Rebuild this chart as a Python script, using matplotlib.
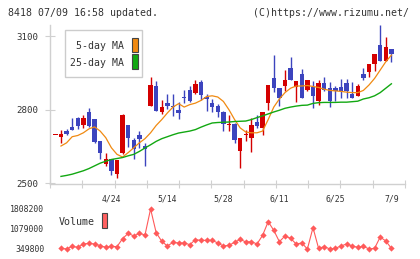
# Candlestick chart with 5/25-day MA and volume panel

import numpy as np
import matplotlib
matplotlib.use("Agg")
from matplotlib import pyplot as plt
from matplotlib.patches import Rectangle

plt.rcParams['font.family'] = ['DejaVu Sans Mono', 'DejaVu Sans']

# ---- data ----
date_idx = [9, 19, 29, 39, 49, 59]
date_labels = ["4/24", "5/14", "5/28", "6/11", "6/25", "7/9"]

# partial first candle (doji) left of the volume series
first_doji = 2700

opens = [2687, 2714, 2728, 2764, 2735, 2791, 2763, 2670, 2577, 2597,
         2536, 2621, 2735, 2675, 2694, 2651, 2813, 2896, 2789, 2826,
         2816, 2799, 2852, 2880, 2868, 2913, 2853, 2828, 2813, 2790,
         2737, 2739, 2631, 2697, 2683, 2749, 2724, 2825, 2929, 2887,
         2894, 2971, 2892, 2945, 2878, 2892, 2833, 2909, 2888, 2888,
         2892, 2909, 2865, 2857, 2945, 2954, 2987, 3062, 2999, 3046]
highs = [2718, 2722, 2766, 2768, 2779, 2806, 2763, 2670, 2621, 2597,
         2593, 2783, 2735, 2685, 2714, 2662, 2934, 2918, 2840, 2864,
         2864, 2829, 2879, 2896, 2921, 2921, 2864, 2844, 2822, 2793,
         2779, 2745, 2682, 2717, 2766, 2776, 2790, 2899, 3022, 2887,
         2961, 3014, 2917, 2967, 2921, 2917, 2921, 2933, 2914, 2898,
         2925, 2925, 2914, 2903, 2971, 2987, 3026, 3143, 3096, 3046]
lows = [2664, 2695, 2716, 2721, 2724, 2729, 2664, 2600, 2570, 2532,
        2519, 2617, 2647, 2600, 2644, 2570, 2813, 2793, 2783, 2802,
        2772, 2763, 2826, 2829, 2864, 2840, 2793, 2790, 2768, 2714,
        2714, 2664, 2563, 2671, 2627, 2725, 2698, 2799, 2870, 2813,
        2876, 2921, 2829, 2845, 2874, 2806, 2820, 2875, 2810, 2833,
        2849, 2847, 2847, 2857, 2921, 2934, 2958, 2999, 2999, 2992]
closes = [2702, 2700, 2718, 2732, 2767, 2732, 2667, 2624, 2597, 2550,
          2593, 2779, 2685, 2638, 2681, 2640, 2900, 2793, 2810, 2813,
          2810, 2786, 2845, 2833, 2905, 2860, 2841, 2811, 2790, 2741,
          2740, 2677, 2682, 2702, 2735, 2731, 2790, 2899, 2886, 2845,
          2921, 2921, 2917, 2845, 2921, 2857, 2909, 2878, 2833, 2874,
          2874, 2874, 2849, 2896, 2930, 2987, 3026, 2999, 3054, 3027]

ma5 = [2651, 2664, 2689, 2694, 2705, 2721, 2729, 2712, 2685, 2644,
       2617, 2606, 2624, 2644, 2664, 2681, 2705, 2735, 2759, 2786,
       2810, 2824, 2810, 2820, 2826, 2837, 2853, 2856, 2851, 2833,
       2799, 2759, 2725, 2708, 2705, 2705, 2712, 2759, 2810, 2843,
       2869, 2887, 2896, 2896, 2898, 2894, 2890, 2883, 2878, 2876,
       2874, 2871, 2869, 2869, 2878, 2900, 2927, 2961, 2995, 3022]
ma25 = [2527, 2531, 2536, 2543, 2550, 2559, 2570, 2581, 2589, 2596,
        2600, 2604, 2611, 2617, 2629, 2643, 2656, 2670, 2681, 2689,
        2697, 2704, 2708, 2712, 2718, 2728, 2737, 2745, 2747, 2748,
        2749, 2751, 2752, 2753, 2759, 2767, 2774, 2782, 2790, 2797,
        2805, 2810, 2814, 2817, 2818, 2825, 2828, 2829, 2829, 2829,
        2830, 2830, 2832, 2834, 2843, 2848, 2856, 2869, 2887, 2905]

volume = [374000, 352000, 447000, 411000, 532000, 556000, 532000, 471000, 411000, 447000,
          435000, 727000, 921000, 824000, 921000, 860000, 1808200, 945000, 629000, 459000,
          593000, 569000, 569000, 508000, 690000, 666000, 666000, 666000, 569000, 459000,
          483000, 593000, 702000, 605000, 617000, 532000, 848000, 1346000, 1030000, 617000,
          824000, 739000, 532000, 569000, 349800, 1128000, 374000, 435000, 352000, 374000,
          459000, 532000, 459000, 411000, 447000, 352000, 374000, 787000, 641000, 374000]

vol_ticks = [349800, 1079000, 1808200]
price_ticks = [2500, 2800, 3100]

# ---- figure ----
W, H = 420, 259
fig = plt.figure(figsize=(W / 100, H / 100), dpi=100)

def fx(px):
    return px / W

def fy(py):
    return 1 - py / H

RED = '#d40000'
BLUE = '#3c44be'
GRID = '#d0d0d0'
TXT = '#333333'

xlim = (-1.96, 61.43)

# price panel
ax = fig.add_axes([fx(50), fy(183.5), fx(405) - fx(50), fy(25) - fy(183.5)])
n = len(closes)
x = np.arange(n)
o = np.array(opens); c = np.array(closes)
colors = [RED if cc >= oo else BLUE for oo, cc in zip(o, c)]

ax.vlines(x, lows, highs, colors=colors, linewidth=1.0)
body_bot = np.minimum(o, c)
body_h = np.maximum(np.abs(c - o), 4)
ax.bar(x, body_h, bottom=body_bot, width=0.78, color=colors, linewidth=0)
ax.bar([-1], [4], bottom=[first_doji - 2], width=0.78, color=RED, linewidth=0)

ax.plot(x, ma5, color='#f08a12', linewidth=0.9)
ax.plot(x, ma25, color='#12a812', linewidth=1.0)

ax.set_xlim(*xlim)
ax.set_ylim(2498, 3145)
for s in ['top', 'right']:
    ax.spines[s].set_visible(False)
for s in ['left', 'bottom']:
    ax.spines[s].set_color(GRID)
    ax.spines[s].set_linewidth(1.0)

ax.set_yticks(price_ticks)
ax.set_yticklabels([str(t) for t in price_ticks])
ax.tick_params(axis='y', direction='inout', length=7, color=GRID,
               labelsize=6.6, labelcolor=TXT, pad=5)
ax.set_xticks(np.linspace(xlim[0], xlim[1], 12))
ax.set_xticklabels([])
ax.tick_params(axis='x', which='major', direction='inout', length=6, color=GRID)
ax.set_xticks(date_idx, minor=True)
ax.set_xticklabels(date_labels, minor=True)
ax.tick_params(axis='x', which='minor', length=0, labelsize=5.9,
               labelcolor=TXT, pad=8)

# volume panel
ax2 = fig.add_axes([fx(50), fy(249), fx(405) - fx(50), fy(209) - fy(249)])
ax2.plot(x, volume, color='#ff5a5a', linewidth=0.8, marker='D',
         markersize=3.2, markeredgewidth=0, clip_on=False)
ax2.set_xlim(*xlim)
ax2.set_ylim(vol_ticks[0], vol_ticks[-1])
for s in ax2.spines.values():
    s.set_visible(False)
ax2.set_xticks([])
ax2.set_yticks(vol_ticks)
ax2.set_yticklabels([str(t) for t in vol_ticks])
ax2.tick_params(axis='y', length=0, labelsize=5.9, labelcolor=TXT, pad=4)

# header
fig.text(fx(8), fy(13), "8418 07/09 16:58 updated.", fontsize=7.1,
         color=TXT, va='center', ha='left')
fig.text(fx(409), fy(13), "(C)https://www.rizumu.net/", fontsize=7.1,
         color=TXT, va='center', ha='right')

# MA legend box
fig.add_artist(Rectangle((fx(65), fy(77)), fx(142) - fx(65), fy(30) - fy(77),
                         transform=fig.transFigure, facecolor='white',
                         edgecolor='#cccccc', linewidth=1.0, zorder=5))
fig.text(fx(124.5), fy(46), "5-day MA", fontsize=7.1, color=TXT,
         ha='right', va='center', zorder=6)
fig.text(fx(124.5), fy(63), "25-day MA", fontsize=7.1, color=TXT,
         ha='right', va='center', zorder=6)
fig.add_artist(Rectangle((fx(131.5), fy(52.3)), fx(6), fy(37.7) - fy(52.3),
                         transform=fig.transFigure, facecolor='#f08a12',
                         edgecolor='#444444', linewidth=0.8, zorder=6))
fig.add_artist(Rectangle((fx(131.5), fy(69)), fx(6), fy(54.3) - fy(69),
                         transform=fig.transFigure, facecolor='#12a812',
                         edgecolor='#444444', linewidth=0.8, zorder=6))

# volume legend
fig.text(fx(58.3), fy(222), "Volume", fontsize=7.2, color=TXT,
         ha='left', va='center')
fig.add_artist(Rectangle((fx(101.7), fy(228.3)), fx(5.6), fy(213.3) - fy(228.3),
                         transform=fig.transFigure, facecolor='#ff6060',
                         edgecolor='#444444', linewidth=0.8))

fig.savefig('out.png', dpi=100)
